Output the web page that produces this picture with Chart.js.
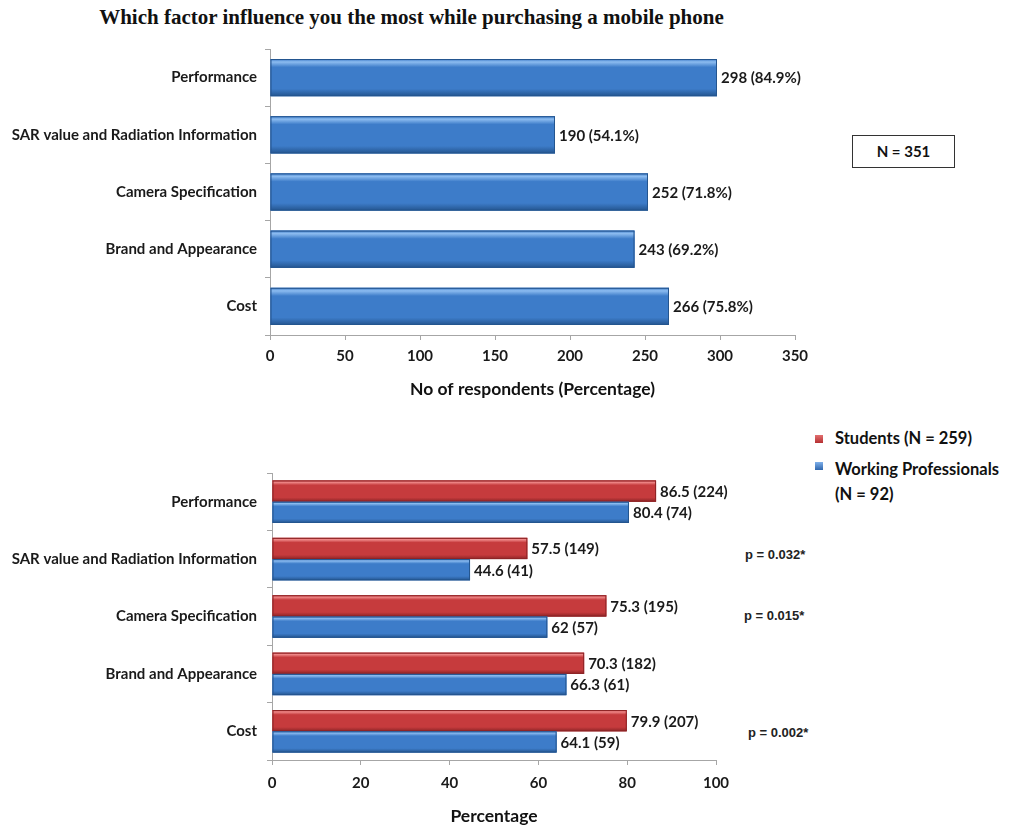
<!DOCTYPE html>
<html>
<head>
<meta charset="utf-8">
<script src="https://cdn.jsdelivr.net/npm/chart.js@4.4.1/dist/chart.umd.min.js"></script>
<style>
  body { margin: 0; background: #fff; width: 1011px; height: 829px; position: relative; overflow: hidden; font-family: Lato, "Open Sans", sans-serif; }
  .abs { position: absolute; }
  #title { top: 5px; left: 0; width: 823px; text-align: center; font: bold 21px "Liberation Serif", serif; color: #111; }
  #nbox { left: 852px; top: 135px; width: 101px; height: 31px; border: 1px solid #333; font: bold 15px Lato, sans-serif; line-height: 31px; text-align: center; color: #111; }
  .leg { font: bold 16.5px Lato, sans-serif; color: #111; }
  .sw { width: 8px; height: 8px; }
  .pval { font: bold 13px "Liberation Sans", Arial, sans-serif; color: #222; }
</style>
</head>
<body>
<div id="title" class="abs">Which factor influence you the most while purchasing a mobile phone</div>
<div id="nbox" class="abs">N = 351</div>

<div class="abs sw" style="left:815px;top:435px;background:linear-gradient(#e27070,#b52f31);"></div>
<div class="abs leg" style="left:835px;top:428px;">Students (N = 259)</div>
<div class="abs sw" style="left:815px;top:462px;background:linear-gradient(#7fb0ea,#2f66ad);"></div>
<div class="abs leg" style="left:835px;top:459px;">Working Professionals</div>
<div class="abs leg" style="left:835px;top:484px;">(N = 92)</div>

<div class="abs pval" style="left:745px;top:547px;">p = 0.032*</div>
<div class="abs pval" style="left:744px;top:608px;">p = 0.015*</div>
<div class="abs pval" style="left:748px;top:725px;">p = 0.002*</div>

<canvas id="topChart" class="abs" style="left:0;top:40px;"></canvas>
<canvas id="bottomChart" class="abs" style="left:0;top:420px;"></canvas>

<script>
const categories = ["Performance", "SAR value and Radiation Information", "Camera Specification", "Brand and Appearance", "Cost"];

// overall respondents (N = 351)
const respondents = [298, 190, 252, 243, 266];
const respondentPct = ["84.9", "54.1", "71.8", "69.2", "75.8"];

// students vs working professionals, percentages and counts
const studentPct = [86.5, 57.5, 75.3, 70.3, 79.9];
const studentCount = [224, 149, 195, 182, 207];
const workerPct = [80.4, 44.6, 62, 66.3, 64.1];
const workerCount = [74, 41, 57, 61, 59];

const topTicks = [0, 50, 100, 150, 200, 250, 300, 350];
const bottomTicks = [0, 20, 40, 60, 80, 100];

const labelFont = { family: "Lato", size: 15, weight: "bold" };
const blue = { light: "#8cbcf0", mid: "#3d7cc9", dark: "#24558f" };
const red = { light: "#f08a8a", mid: "#c63b3d", dark: "#8c2426" };

// shade bars with a vertical gradient so they look bevelled
const bevelPlugin = {
  id: "bevel",
  afterDatasetsDraw(chart) {
    const ctx = chart.ctx;
    chart.data.datasets.forEach((ds, i) => {
      const meta = chart.getDatasetMeta(i);
      const c = ds.shade;
      meta.data.forEach((bar) => {
        const left = Math.min(bar.base, bar.x);
        const right = Math.max(bar.base, bar.x);
        const top = bar.y - bar.height / 2;
        const h = bar.height;
        const g = ctx.createLinearGradient(0, top, 0, top + h);
        g.addColorStop(0, c.mid);
        g.addColorStop(0.08, c.light);
        g.addColorStop(0.22, c.mid);
        g.addColorStop(0.8, c.mid);
        g.addColorStop(1, c.dark);
        ctx.save();
        ctx.fillStyle = g;
        ctx.fillRect(left, top, right - left, h);
        ctx.strokeStyle = c.dark;
        ctx.lineWidth = 1;
        ctx.strokeRect(left + 0.5, top + 0.5, right - left - 1, h - 1);
        ctx.restore();
      });
    });
  }
};

// value labels at the end of each bar
const valueLabelPlugin = {
  id: "valueLabels",
  afterDatasetsDraw(chart) {
    const ctx = chart.ctx;
    ctx.save();
    ctx.font = "bold 15px Lato";
    ctx.fillStyle = "#1a1a1a";
    ctx.textBaseline = "middle";
    chart.data.datasets.forEach((ds, i) => {
      const meta = chart.getDatasetMeta(i);
      meta.data.forEach((bar, j) => {
        ctx.fillText(ds.labels[j], bar.x + 4, bar.y + 1);
      });
    });
    ctx.restore();
  }
};

function xAxis(max, title, tickValues, tickPad, titlePad) {
  return {
    min: 0,
    max: max,
    afterBuildTicks: (scale) => { scale.ticks = tickValues.map((v) => ({ value: v })); },
    border: { color: "#a6a6a6" },
    grid: { drawOnChartArea: false, tickLength: 5, color: "#a6a6a6" },
    ticks: { font: labelFont, color: "#1a1a1a", padding: tickPad },
    title: { display: true, text: title, font: { family: "Lato", size: 17.5, weight: "bold" }, color: "#111", padding: { top: titlePad, bottom: 0 } }
  };
}

function yAxis(pad) {
  return {
    afterFit: (scale) => {
      scale.width = 270 + pad;
      scale.paddingTop = 0;
      scale.paddingBottom = 0;
    },
    border: { color: "#a6a6a6" },
    grid: { offset: true, drawOnChartArea: false, tickLength: 5, color: "#a6a6a6" },
    ticks: { font: labelFont, color: "#1a1a1a", padding: 8 + pad }
  };
}

const topCanvas = document.getElementById("topChart");
topCanvas.width = 840;
topCanvas.height = 370;
new Chart(topCanvas, {
  type: "bar",
  data: {
    labels: categories,
    datasets: [{
      data: respondents,
      labels: respondents.map((v, i) => v + " (" + respondentPct[i] + "%)"),
      backgroundColor: blue.mid,
      shade: blue,
      categoryPercentage: 0.65,
      barPercentage: 1
    }]
  },
  options: {
    indexAxis: "y",
    responsive: false,
    animation: false,
    layout: { padding: { top: 9, right: 45, bottom: 10, left: 0 } },
    plugins: { legend: { display: false }, tooltip: { enabled: false } },
    scales: {
      x: xAxis(350, "No of respondents (Percentage)", topTicks, 7, 7),
      y: yAxis(0)
    }
  },
  plugins: [bevelPlugin, valueLabelPlugin]
});

const bottomCanvas = document.getElementById("bottomChart");
bottomCanvas.width = 760;
bottomCanvas.height = 409;
new Chart(bottomCanvas, {
  type: "bar",
  data: {
    labels: categories,
    datasets: [
      {
        label: "Students (N = 259)",
        data: studentPct,
        labels: studentPct.map((v, i) => v + " (" + studentCount[i] + ")"),
        backgroundColor: red.mid,
        shade: red,
        categoryPercentage: 0.74,
        barPercentage: 1
      },
      {
        label: "Working Professionals (N = 92)",
        data: workerPct,
        labels: workerPct.map((v, i) => v + " (" + workerCount[i] + ")"),
        backgroundColor: blue.mid,
        shade: blue,
        categoryPercentage: 0.74,
        barPercentage: 1
      }
    ]
  },
  options: {
    indexAxis: "y",
    responsive: false,
    animation: false,
    layout: { padding: { top: 53, right: 44, bottom: 2, left: 0 } },
    plugins: { legend: { display: false }, tooltip: { enabled: false } },
    scales: {
      x: xAxis(100, "Percentage", bottomTicks, 9, 5),
      y: yAxis(2)
    }
  },
  plugins: [bevelPlugin, valueLabelPlugin]
});
</script>
</body>
</html>
